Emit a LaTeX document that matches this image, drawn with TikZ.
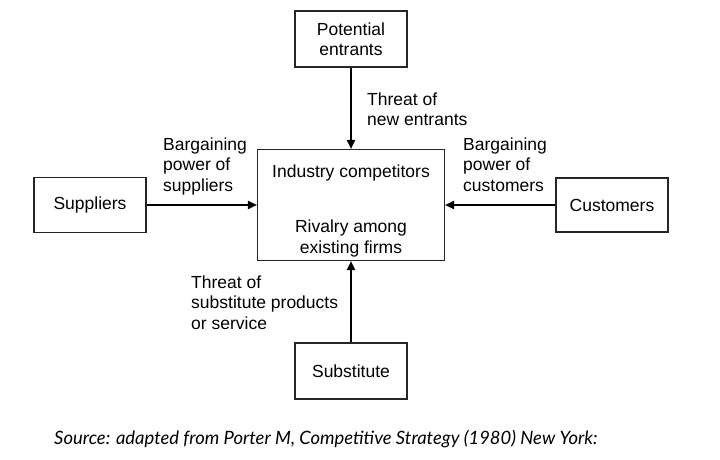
\documentclass[tikz,border=0pt]{standalone}
\usepackage{fontspec}
\setmainfont{Liberation Sans}
\newfontfamily\srcfont{Lato}
\usetikzlibrary{arrows.meta}
\begin{document}
\begin{tikzpicture}[x=1pt,y=-1pt,
  lab/.style={font=\fontsize{17.5}{20.5}\selectfont, inner sep=0pt},
  box/.style={draw=black!85, line width=1.1pt, minimum width=112pt, minimum height=56pt, inner sep=0pt, lab, align=center},
  force/.style={line width=1.9pt, -{Triangle[length=9pt,width=8pt]}}
]
\useasboundingbox[fill=white] (0,0) rectangle (720,460);
% boxes
\node[box] (pe) at (351,39) {Potential\\entrants};
\node[box, minimum width=187pt, minimum height=111pt] (ic) at (351,205) {};
\node[box, minimum height=55pt] (sup) at (90,205) {Suppliers};
\node[box, minimum height=54pt] (cus) at (612,205) {Customers};
\node[box] (sub) at (351,371) {Substitute};
% texts inside the central box
\node[lab, anchor=base] (ict) at (351,177.5) {Industry competitors};
\node[lab, anchor=north, align=center] (icr) at (351,220) {Rivalry among\\existing firms};
% connectors
\draw[force] (pe.south) -- (ic.north);
\draw[force] (sup.east) -- (ic.west);
\draw[force] (cus.west) -- (ic.east);
\draw[force] (sub.north) -- (ic.south);
% labels
\node[lab, anchor=north west, align=left] (lne) at (367,92.5) {Threat of\\new entrants};
\node[lab, anchor=north west, align=left] (lsup) at (163,137.5) {Bargaining\\power of\\suppliers};
\node[lab, anchor=north west, align=left] (lcus) at (463,137.5) {Bargaining\\power of\\customers};
\node[lab, anchor=north west, align=left] (lsub) at (191,275.5) {Threat of\\substitute products\\or service};
% source
\node[inner sep=0pt, anchor=base west, font=\srcfont\itshape\fontsize{18.4}{20}\selectfont] (src) at (54,444) {Source: adapted from Porter M, Competitive Strategy (1980) New York:};
\end{tikzpicture}
\end{document}
